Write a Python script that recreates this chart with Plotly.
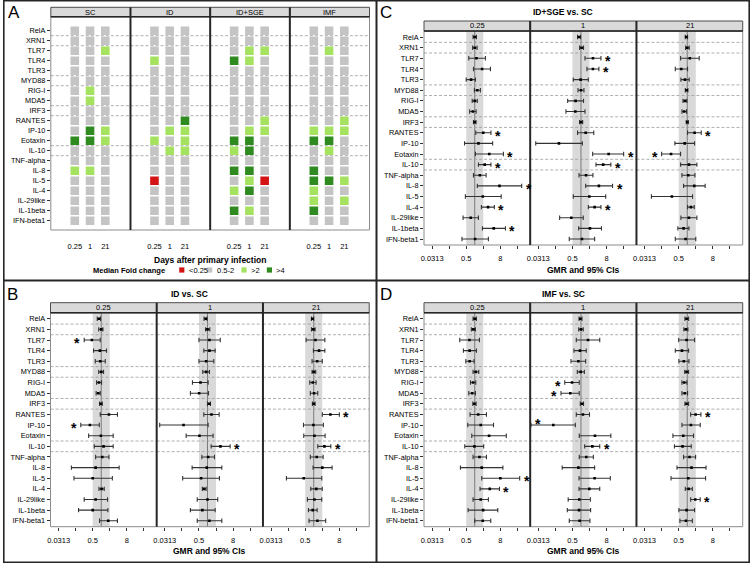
import numpy as np
import plotly.graph_objects as go

GENES = ["RelA", "XRN1", "TLR7", "TLR4", "TLR3", "MYD88", "RIG-I", "MDA5", "IRF3",
         "RANTES", "IP-10", "Eotaxin", "IL-10", "TNF-alpha", "IL-8", "IL-5", "IL-4",
         "IL-29like", "IL-1beta", "IFN-beta1"]
DAYS = ["0.25", "1", "21"]
GROUPS = ["SC", "ID", "ID+SGE", "IMF"]

# median fold change class per gene x day: 0 "<0.25", 1 "0.5-2", 2 ">2", 3 ">4"
FC_LABELS = ["<0.25", "0.5-2", ">2", ">4"]
FC_COLORS = ["#d41414", "#c4c4c4", "#a4e260", "#2f8a1f"]

SC_FC = [[1, 1, 1], [1, 1, 1], [1, 1, 2], [1, 1, 1], [1, 1, 1], [1, 1, 1], [1, 2, 1],
         [1, 2, 1], [1, 1, 1], [1, 1, 1], [1, 3, 2], [3, 3, 2], [1, 1, 1], [1, 1, 1],
         [2, 2, 1], [1, 1, 1], [1, 1, 1], [1, 1, 1], [1, 1, 1], [1, 1, 1]]
ID_FC = [[1, 1, 1], [1, 1, 1], [1, 1, 1], [2, 1, 1], [1, 1, 1], [1, 1, 1], [1, 1, 1],
         [1, 1, 1], [1, 1, 1], [1, 1, 3], [1, 2, 2], [2, 1, 2], [1, 2, 2], [1, 1, 1],
         [1, 1, 1], [0, 1, 1], [1, 1, 1], [1, 1, 1], [1, 1, 1], [1, 1, 1]]
IDSGE_FC = [[1, 1, 1], [1, 1, 1], [1, 2, 2], [3, 2, 1], [1, 1, 1], [1, 1, 1], [1, 1, 1],
            [1, 1, 1], [1, 1, 1], [1, 1, 2], [1, 2, 2], [3, 3, 1], [2, 3, 1], [1, 1, 1],
            [3, 3, 1], [1, 2, 0], [2, 3, 1], [1, 1, 1], [3, 2, 1], [1, 1, 1]]
IMF_FC = [[1, 1, 1], [1, 1, 1], [1, 2, 1], [1, 1, 1], [1, 1, 1], [1, 1, 1], [1, 1, 1],
          [1, 1, 1], [1, 1, 1], [1, 1, 2], [2, 2, 2], [3, 3, 1], [1, 2, 1], [1, 1, 1],
          [3, 1, 1], [3, 3, 2], [2, 1, 1], [2, 1, 2], [3, 1, 1], [1, 1, 1]]

# GMR and 95% CI, log2 scale: (lower, estimate, upper) per gene
ID_T025 = [(-0.47, -0.27, -0.08), (-0.3, 0, 0.2), (-2.0, -1.1, -0.12), (-0.9, -0.16, 0.62),
           (-0.7, -0.12, 0.47), (-0.3, 0, 0.27), (-0.55, -0.27, 0.04), (-0.6, -0.35, -0.12),
           (-0.2, -0.04, 0.12), (-0.12, 0.9, 1.9), (-2.4, -1.33, -0.23), (-1.48, -0.04, 1.4),
           (-0.82, 0.27, 1.4), (-0.66, 0.12, 0.9), (-3.5, -0.66, 2.1), (-3.2, -1.0, 1.3),
           (-0.27, 0.04, 0.35), (-2.0, -0.66, 0.74), (-2.66, -1.0, 0.78), (-0.2, 0.82, 1.9)]
ID_T1 = [(-0.4, -0.2, -0.04), (-0.23, 0, 0.27), (-1.0, 0.23, 1.5), (-0.43, 0.23, 0.9),
         (-1.0, -0.16, 0.74), (-0.55, -0.16, 0.23), (-1.76, -0.82, 0.08), (-2.0, -0.98, 0.12),
         (0, 0.2, 0.35), (-0.43, 0.47, 1.37), (-5.6, -2.8, 0.08), (-2.5, -0.94, 0.66),
         (0.43, 1.52, 2.66), (-0.66, 0.08, 0.82), (-1.8, -0.08, 1.68), (-2.9, -0.74, 1.4),
         (-0.6, -0.4, -0.16), (-1.2, 0, 1.2), (-2.0, -0.6, 0.9), (-1.2, 0.23, 1.68)]
ID_T21 = [(-0.27, -0.16, 0), (-0.27, -0.04, 0.16), (-0.9, 0.2, 1.3), (-0.04, 0.62, 1.3),
          (-0.2, 0.4, 1.0), (-0.2, 0, 0.23), (-0.47, -0.12, 0.27), (-0.4, 0.04, 0.47),
          (-0.16, 0, 0.16), (1.0, 1.95, 3.0), (-1.2, -0.04, 1.13), (-1.17, 0.08, 1.33),
          (0.47, 1.25, 2.0), (-0.4, 0.35, 1.1), (-0.08, 1.0, 2.15), (-3.2, -1.17, 0.94),
          (-0.35, 0.3, 1.0), (-0.74, 0.08, 0.94), (-0.62, -0.12, 0.4), (-0.55, 0.43, 1.4)]

IDSGE_T025 = [(-0.2, 0, 0.2), (-0.25, 0, 0.27), (-0.7, 0.2, 1.25), (-0.15, 0.86, 1.84),
              (-1.0, -0.43, 0.08), (-0.04, 0.3, 0.66), (-0.3, 0, 0.3), (-0.6, -0.23, 0.16),
              (-0.15, 0, 0.15), (0.12, 1.0, 1.9), (-1.2, 0.43, 2.1), (0.08, 1.7, 3.36),
              (0.43, 1.17, 1.9), (-0.15, 0.6, 1.33), (0.3, 2.9, 5.5), (-1.1, 0.94, 3.1),
              (0.78, 1.56, 2.3), (-1.37, -0.47, 0.43), (0.9, 2.23, 3.6), (-1.5, 0.04, 1.6)]
IDSGE_T1 = [(-0.4, -0.23, -0.04), (-0.16, 0.08, 0.3), (0.47, 1.4, 2.34), (0.7, 1.4, 2.1),
            (-0.9, -0.04, 0.86), (-0.35, 0, 0.35), (-1.56, -0.63, 0.3), (-1.76, -0.66, 0.47),
            (-0.16, 0, 0.2), (-0.4, 0.55, 1.5), (-5.3, -2.58, 0.16), (1.37, 3.24, 5.0),
            (1.76, 2.6, 3.5), (-0.23, 0.59, 1.4), (0.55, 2.1, 3.7), (-0.9, 0.98, 2.9),
            (0.86, 1.6, 2.34), (-2.5, -1.13, 0.27), (-0.27, 1.05, 2.4), (-1.37, 0.12, 1.6)]
IDSGE_T21 = [(-0.23, -0.12, 0.04), (-0.2, 0, 0.23), (-0.78, 0.3, 1.4), (-1.4, -0.7, 0.04),
             (-0.74, -0.27, 0.23), (-0.23, -0.08, 0.08), (-0.5, -0.27, -0.04), (-0.62, -0.35, -0.08),
             (-0.12, 0, 0.12), (0.04, 0.86, 1.64), (-1.45, -0.3, 0.86), (-3.0, -1.9, -0.78),
             (-0.78, 0.2, 1.13), (-0.62, 0.12, 0.9), (-0.43, 0.82, 2.1), (-4.2, -1.8, 0.62),
             (0.04, 0.43, 0.82), (-0.74, 0.2, 1.13), (-1.1, -0.43, 0.2), (-1.4, -0.2, 1.0)]

IMF_T025 = [(-0.2, 0, 0.2), (-0.4, -0.16, 0.08), (-1.76, -0.62, 0.55), (-1.33, -0.6, 0.2),
            (-1.05, -0.6, -0.08), (-0.2, 0.12, 0.47), (-0.5, -0.2, 0.12), (-0.7, -0.3, 0.08),
            (-0.23, -0.04, 0.16), (-0.55, 0.4, 1.37), (-0.82, 0.7, 2.2), (-0.35, 1.68, 3.7),
            (-1.17, -0.04, 1.05), (-0.2, 0.55, 1.37), (-1.68, 0.82, 3.3), (0.82, 3.0, 5.27),
            (0.62, 1.76, 2.9), (-0.2, 0.7, 1.6), (-0.78, 0.98, 2.7), (0, 0.94, 1.88)]
IMF_T1 = [(-0.23, -0.08, 0.12), (-0.27, 0, 0.27), (-0.55, 0.82, 2.2), (-0.82, -0.12, 0.62),
          (-1.17, -0.3, 0.55), (-0.43, -0.04, 0.4), (-1.9, -1.05, -0.2), (-2.34, -1.25, -0.2),
          (-0.08, 0.12, 0.3), (-0.55, 0.23, 1.0), (-5.86, -3.24, -0.66), (-0.2, 1.64, 3.5),
          (0.43, 1.33, 2.2), (-0.2, 0.62, 1.45), (-2.2, -0.3, 1.6), (-0.23, 1.6, 3.44),
          (-0.23, 0.98, 2.2), (-1.5, -0.2, 1.1), (-1.6, -0.23, 1.13), (-1.37, -0.16, 1.05)]
IMF_T21 = [(-0.27, -0.08, 0.16), (-0.4, -0.16, 0.08), (-1.0, -0.08, 0.86), (-1.4, -0.62, 0.16),
           (-0.98, -0.4, 0.2), (-0.3, -0.08, 0.16), (-0.62, -0.35, -0.04), (-0.62, -0.3, 0.04),
           (-0.27, -0.08, 0.16), (0.4, 0.98, 1.6), (-0.62, 0.43, 1.52), (-1.68, -0.47, 0.74),
           (-1.5, -0.55, 0.47), (-0.43, 0.27, 0.98), (-1.2, 0.5, 2.2), (-1.9, 0.12, 2.15),
           (-0.23, 0.16, 0.6), (0.4, 0.94, 1.52), (-0.98, -0.08, 0.86), (-0.86, -0.16, 0.6)]

# genes flagged with * per day
ID_SIG = [["TLR7", "IP-10"], ["IL-10"], ["RANTES", "IL-10"]]
IDSGE_SIG = [["RANTES", "Eotaxin", "IL-10", "IL-8", "IL-4", "IL-1beta"],
             ["TLR7", "TLR4", "Eotaxin", "IL-10", "IL-8", "IL-4"],
             ["RANTES", "Eotaxin"]]
IMF_SIG = [["IL-5", "IL-4"], ["RIG-I", "MDA5", "IP-10", "IL-10"], ["RANTES", "IL-29like"]]

BREAKS = [0.5, 1.5, 4.5, 5.5, 7.5, 8.5, 11.5, 12.5]

W, H = 750, 563
FONT = "Liberation Sans, Arial, sans-serif"
DARK = "#262626"


def px(x):
    return x / W


def py(y):
    return 1 - y / H


def ref(k, kind):
    return kind + ("" if k == 1 else str(k))


fig = go.Figure()
layout = {}
shapes = []
annos = []


def text(x, y, s, size, bold=False, xanchor="center"):
    annos.append(dict(x=px(x), y=py(y), xref="paper", yref="paper", showarrow=False,
                      text=f"<b>{s}</b>" if bold else s, xanchor=xanchor, yanchor="middle",
                      font=dict(size=size, color="black", family=FONT)))


def frame(edges, strip_top, top, bot, labels):
    shapes.append(dict(type="rect", xref="paper", yref="paper", x0=px(edges[0]), x1=px(edges[-1]),
                       y0=py(bot), y1=py(top), line=dict(color="#8c8c8c", width=1)))
    for i, lab in enumerate(labels):
        shapes.append(dict(type="rect", xref="paper", yref="paper", x0=px(edges[i]), x1=px(edges[i + 1]),
                           y0=py(top), y1=py(strip_top), fillcolor="#d9d9d9",
                           line=dict(color="#4d4d4d", width=1)))
        text((edges[i] + edges[i + 1]) / 2, (strip_top + top) / 2, lab, 7.5)
    shapes.append(dict(type="line", xref="paper", yref="paper", x0=px(edges[0]), x1=px(edges[-1]),
                       y0=py(top), y1=py(top), line=dict(color=DARK, width=1.5)))
    for e in edges[1:-1]:
        shapes.append(dict(type="line", xref="paper", yref="paper", x0=px(e), x1=px(e),
                           y0=py(bot), y1=py(strip_top), line=dict(color=DARK, width=2)))


def dashes(k):
    for b in BREAKS:
        shapes.append(dict(type="line", xref=ref(k, "x") + " domain", yref=ref(k, "y"), x0=0, x1=1,
                           y0=b, y1=b, layer="below",
                           line=dict(color="#9a9a9a", width=0.8, dash="3px,2px")))


# ---------- panel A: fold-change grid ----------
A_EDGES = [48, 128, 208, 288, 368]
A_STRIP, A_TOP, A_BOT = 7.3, 16.7, 230
k = 0
for g, codes in enumerate([SC_FC, ID_FC, IDSGE_FC, IMF_FC]):
    k += 1
    xs, ys, cs = [], [], []
    for r, row in enumerate(codes):
        for d, c in enumerate(row):
            xs.append(d + 1)
            ys.append(r)
            cs.append(FC_COLORS[c])
    fig.add_trace(go.Scatter(x=xs, y=ys, mode="markers", showlegend=False, hoverinfo="skip",
                             marker=dict(symbol="square", size=8.6, color=cs, line=dict(width=0)),
                             xaxis=ref(k, "x"), yaxis=ref(k, "y")))
    layout[ref(k, "xaxis")] = dict(domain=[px(A_EDGES[g]), px(A_EDGES[g + 1])], anchor=ref(k, "y"),
                                   range=[-0.57, 4.65], tickmode="array", tickvals=[1, 2, 3],
                                   ticktext=DAYS, ticks="outside", ticklen=9,
                                   tickcolor="rgba(0,0,0,0)", showgrid=False, zeroline=False,
                                   showline=False, tickfont=dict(size=7.5, color="black"))
    layout[ref(k, "yaxis")] = dict(domain=[py(A_BOT), py(A_TOP)], anchor=ref(k, "x"),
                                   range=[19.93, -1.4], tickmode="array", tickvals=list(range(20)),
                                   ticktext=GENES, showticklabels=(g == 0),
                                   ticks="outside" if g == 0 else "", ticklen=3, tickcolor="#333",
                                   showgrid=False, zeroline=False, showline=False,
                                   tickfont=dict(size=7.3, color="black"))
    dashes(k)
frame(A_EDGES, A_STRIP, A_TOP, A_BOT, GROUPS)
text(207.5, 259.5, "Days after primary infection", 8.5, bold=True)
text(127, 270, "Median Fold change", 7.5, bold=True)
for lab, col, sx in zip(FC_LABELS, FC_COLORS, [179.5, 207.5, 242, 267.5]):
    shapes.append(dict(type="rect", xref="paper", yref="paper", x0=px(sx - 2.6), x1=px(sx + 2.6),
                       y0=py(272.6), y1=py(267.4), fillcolor=col, line=dict(width=0)))
    text(sx + 5, 270, lab, 7.5, xanchor="left")

# ---------- panels B, C, D: GMR forest plots ----------
F_EDGES = [47.7, 154.3, 261.0, 367.7]
F_STRIP, F_TOP, F_BOT = 21.0, 31.0, 245.0
LOG2_RANGE = [-5.95, 6.5]
L2 = np.log10(2)
TICK_E = [-5, -3, -1, 1, 3, 5]
TICK_T = ["0.0313", "", "0.5", "", "8", ""]

PANELS = [
    ("B", "ID vs. SC", [ID_T025, ID_T1, ID_T21], ID_SIG, 0, 281.7),
    ("C", "ID+SGE vs. SC", [IDSGE_T025, IDSGE_T1, IDSGE_T21], IDSGE_SIG, 375, 0),
    ("D", "IMF vs. SC", [IMF_T025, IMF_T1, IMF_T21], IMF_SIG, 375, 281.7),
]

for letter, title, series, sigs, dx, dy in PANELS:
    edges = [e + dx for e in F_EDGES]
    for j, (data, sig) in enumerate(zip(series, sigs)):
        k += 1
        lo = 2.0 ** np.array([t[0] for t in data])
        est = 2.0 ** np.array([t[1] for t in data])
        hi = 2.0 ** np.array([t[2] for t in data])
        fig.add_trace(go.Scatter(
            x=est, y=list(range(len(GENES))), mode="markers", showlegend=False, hoverinfo="skip",
            marker=dict(symbol="square", size=2.6, color="black"),
            error_x=dict(type="data", symmetric=False, array=hi - est, arrayminus=est - lo,
                         color="#333333", thickness=1.1, width=2.2),
            xaxis=ref(k, "x"), yaxis=ref(k, "y")))
        layout[ref(k, "xaxis")] = dict(domain=[px(edges[j]), px(edges[j + 1])], anchor=ref(k, "y"),
                                       type="log", range=[v * L2 for v in LOG2_RANGE],
                                       tickmode="array", tickvals=[2.0 ** e for e in TICK_E],
                                       ticktext=TICK_T, ticks="outside", ticklen=3, tickcolor="#333",
                                       ticklabelstandoff=3, showgrid=False, zeroline=False,
                                       showline=False, tickfont=dict(size=7.5, color="black"))
        layout[ref(k, "yaxis")] = dict(domain=[py(F_BOT + dy), py(F_TOP + dy)], anchor=ref(k, "x"),
                                       range=[19.56, -0.57], tickmode="array",
                                       tickvals=list(range(20)), ticktext=GENES,
                                       showticklabels=(j == 0), ticks="outside" if j == 0 else "",
                                       ticklen=3, tickcolor="#333", showgrid=False, zeroline=False,
                                       showline=False, tickfont=dict(size=7.3, color="black"))
        shapes.append(dict(type="rect", xref=ref(k, "x"), yref=ref(k, "y") + " domain",
                           x0=0.5, x1=2, y0=0, y1=1, fillcolor="#d9d9d9", line=dict(width=0),
                           layer="below"))
        shapes.append(dict(type="line", xref=ref(k, "x"), yref=ref(k, "y") + " domain",
                           x0=1, x1=1, y0=0, y1=1, line=dict(color="#7a7a7a", width=1),
                           layer="below"))
        dashes(k)
        for gene in sig:
            r = GENES.index(gene)
            l2lo, l2est, l2hi = data[r]
            a = dict(xref=ref(k, "x"), yref=ref(k, "y"), y=r, showarrow=False, text="<b>*</b>",
                     font=dict(size=14, color="black", family=FONT), yanchor="middle", yshift=-3)
            if l2est > 0:
                a.update(x=l2hi * L2, xanchor="left", xshift=2)
            elif l2lo - 0.8 < LOG2_RANGE[0]:
                a.update(x=l2lo * L2, xanchor="left", xshift=2, yshift=1)
            else:
                a.update(x=l2lo * L2, xanchor="right", xshift=-2)
            annos.append(a)
    frame(edges, F_STRIP + dy, F_TOP + dy, F_BOT + dy, DAYS)
    text(187.5 + dx, 12 + dy, title, 8.5, bold=True)
    text((edges[0] + edges[-1]) / 2, 269.5 + dy, "GMR and 95% CIs", 8.5, bold=True)
    text(10 + dx, 12.5 + dy, letter, 17)

text(11, 12.5, "A", 17)

# panel borders
shapes.append(dict(type="rect", xref="paper", yref="paper", x0=px(0.8), x1=px(749.2), y0=py(562.2),
                   y1=py(0.8), line=dict(color=DARK, width=1.6)))
shapes.append(dict(type="line", xref="paper", yref="paper", x0=px(375), x1=px(375), y0=0, y1=1,
                   line=dict(color=DARK, width=2)))
shapes.append(dict(type="line", xref="paper", yref="paper", x0=0, x1=1, y0=py(280.5), y1=py(280.5),
                   line=dict(color=DARK, width=2)))

fig.update_layout(**layout)
fig.update_layout(width=W, height=H, margin=dict(l=0, r=0, t=0, b=0), paper_bgcolor="white",
                  plot_bgcolor="white", font=dict(family=FONT, color="black", size=7.5),
                  shapes=shapes, annotations=annos)
fig.write_html("out.html", config={"displayModeBar": False},
               post_script="document.body.style.margin='0px';"
                           "document.body.style.overflow='hidden';")
